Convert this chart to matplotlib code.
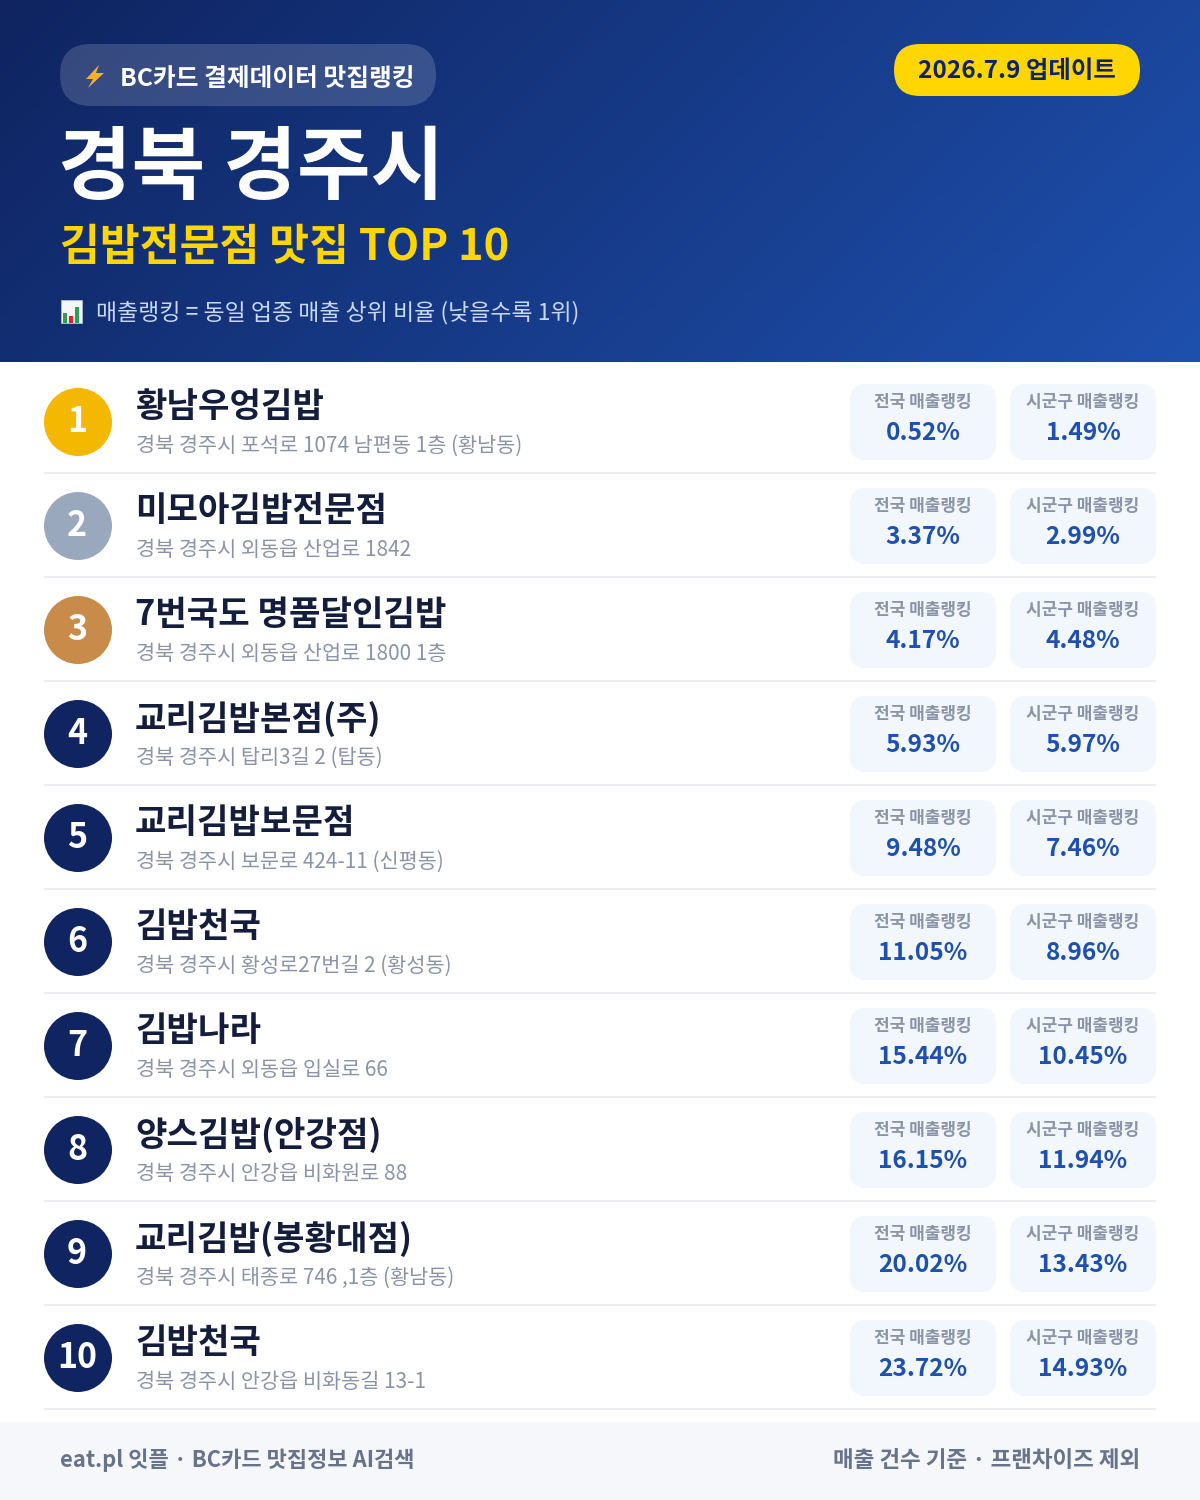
import numpy as np
import matplotlib
matplotlib.use('Agg')
import matplotlib.pyplot as plt
from matplotlib.patches import FancyBboxPatch, Circle, Rectangle, Polygon

plt.rcParams['font.family'] = ['Noto Sans CJK KR', 'DejaVu Sans']

ranks = list(range(1, 11))
names = ['황남우엉김밥', '미모아김밥전문점', '7번국도 명품달인김밥', '교리김밥본점(주)', '교리김밥보문점',
         '김밥천국', '김밥나라', '양스김밥(안강점)', '교리김밥(봉황대점)', '김밥천국']
addresses = ['경북 경주시 포석로 1074 남편동 1층 (황남동)', '경북 경주시 외동읍 산업로 1842',
             '경북 경주시 외동읍 산업로 1800 1층', '경북 경주시 탑리3길 2 (탑동)',
             '경북 경주시 보문로 424-11 (신평동)', '경북 경주시 황성로27번길 2 (황성동)',
             '경북 경주시 외동읍 입실로 66', '경북 경주시 안강읍 비화원로 88',
             '경북 경주시 태종로 746 ,1층 (황남동)', '경북 경주시 안강읍 비화동길 13-1']
national = [0.52, 3.37, 4.17, 5.93, 9.48, 11.05, 15.44, 16.15, 20.02, 23.72]
local = [1.49, 2.99, 4.48, 5.97, 7.46, 8.96, 10.45, 11.94, 13.43, 14.93]
badge_colors = ['#F5B800', '#9AA8BE', '#C98B4A'] + ['#0F2460'] * 7

W, H = 1200, 1500
PT = 0.72
fig = plt.figure(figsize=(12, 15), dpi=100, facecolor='white')
ax = fig.add_axes([0, 0, 1, 1])
ax.set_xlim(0, W)
ax.set_ylim(H, 0)
ax.axis('off')

def T(x, y, s, px, color, weight='bold', ha='left', **kw):
    return ax.text(x, y, s, fontsize=px * PT, color=color, fontweight=weight, ha=ha,
                   va='center_baseline', zorder=5, **kw)

def RR(x, y, w, h, r, color, alpha=1.0, z=2):
    ax.add_patch(FancyBboxPatch((x + r, y + r), w - 2 * r, h - 2 * r,
                                boxstyle=f'round,pad={r},rounding_size={r}',
                                fc=color, ec='none', alpha=alpha, zorder=z))

# header gradient
gx, gy = np.meshgrid(np.linspace(0, 1, 400), np.linspace(0, 1, 120))
t = np.clip((gx * 1200 + gy * 362) / 1562, 0, 1)[..., None]
c0 = np.array([0x0F, 0x24, 0x60]) / 255
c1 = np.array([0x1E, 0x50, 0xAE]) / 255
ax.imshow(c0 + (c1 - c0) * t, extent=(0, W, 362, 0), aspect='auto', zorder=1, interpolation='bilinear')
ax.set_xlim(0, W)
ax.set_ylim(H, 0)

# header pills
RR(60, 44, 376, 62, 31, '#FFFFFF', alpha=0.16)
ax.add_patch(Polygon([(99, 65), (86, 79), (93, 79), (88, 88), (104, 73), (96, 73)], fc='#F5B325', ec='none', zorder=5))
T(120, 76, 'BC카드 결제데이터 맛집랭킹', 24.7, '#FFFFFF')
RR(894, 44, 246, 52, 26, '#FFD600')
T(1017, 68, '2026.7.9 업데이트', 24.4, '#0F2460', ha='center')

T(58, 161, '경북 경주시', 80, '#FFFFFF', weight=900)
T(60, 243, '김밥전문점 맛집 TOP 10', 43.3, '#FFD600', weight=900)

# chart emoji
ax.add_patch(Rectangle((61, 300), 21, 23, fc='#F4F6F8', ec='#B8C2CC', lw=0.5, zorder=5))
for bx, bt, bc in [(63, 313, '#2E9E4F'), (69, 316, '#D9272E'), (75, 307, '#2E9E4F')]:
    ax.add_patch(Rectangle((bx, bt), 4, 323 - bt, fc=bc, ec='none', zorder=6))
T(96, 310, '매출랭킹 = 동일 업종 매출 상위 비율 (낮을수록 1위)', 22.9, '#C9D8F5', weight='regular')

# rows
ROW0, STEP = 362, 104
for i, (rk, nm, ad, na, lo, bc) in enumerate(zip(ranks, names, addresses, national, local, badge_colors)):
    y0 = ROW0 + i * STEP
    ax.add_patch(Circle((78, y0 + 60), 34, fc=bc, ec='none', zorder=3))
    T(77, y0 + 56, str(rk), 34, '#FFFFFF', ha='center')
    T(135, y0 + 41, nm, 34.2, '#141E3C')
    T(136, y0 + 81, ad, 20.8, '#8A94A6', weight='regular')
    for bx, lab, val in [(850, '전국 매출랭킹', na), (1010, '시군구 매출랭킹', lo)]:
        RR(bx, y0 + 22, 146, 76, 16, '#F2F6FD')
        T(bx + 73, y0 + 38, lab, 17, '#8A94A6', ha='center')
        T(bx + 73, y0 + 69, f'{val:.2f}%', 24.5, '#1E50AE', ha='center')
    ax.add_patch(Rectangle((44, y0 + 110), 1112, 2, fc='#EBEDF1', ec='none', zorder=2))

# footer
ax.add_patch(Rectangle((0, 1422), W, 78, fc='#F5F7FB', ec='none', zorder=2))
T(60, 1458, 'eat.pl 잇플 · BC카드 맛집정보 AI검색', 22, '#67738A')
T(1140, 1458, '매출 건수 기준 · 프랜차이즈 제외', 22.5, '#67738A', ha='right')

fig.savefig('out.png', dpi=100, facecolor='white')
